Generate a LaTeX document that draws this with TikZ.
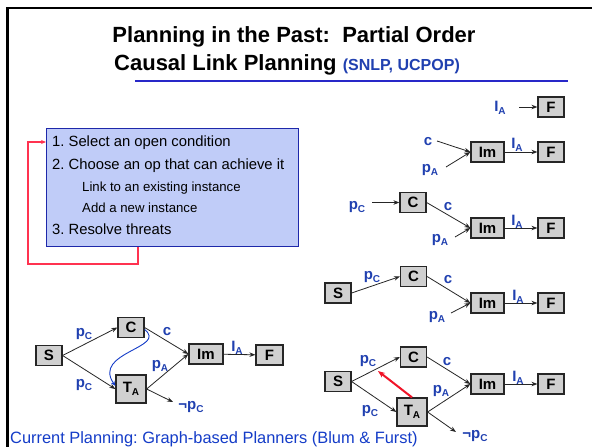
\documentclass[tikz,border=0pt]{standalone}
\usepackage{fontspec}
\setmainfont{Liberation Sans}
\usetikzlibrary{arrows.meta}
\definecolor{lblue}{RGB}{32,64,176}
\definecolor{boxfill}{RGB}{208,208,208}
\definecolor{stepfill}{RGB}{192,204,248}
\definecolor{stepdraw}{RGB}{30,40,170}
\definecolor{loopred}{RGB}{255,50,80}
\definecolor{threat}{RGB}{240,20,40}
\definecolor{curblue}{RGB}{20,60,200}
\definecolor{ulblue}{RGB}{40,40,200}
\newcommand\sbs[1]{\raisebox{-0.45ex}{\fontsize{10}{10}\selectfont #1}}
\frenchspacing
\begin{document}
\begin{tikzpicture}[x=1pt,y=-1pt,
  op/.style={draw=black!85, fill=boxfill, line width=1.2pt, inner sep=0pt, minimum width=26pt, minimum height=20pt, font=\fontsize{15}{15}\selectfont\bfseries},
  wideop/.style={op, minimum width=33pt},
  tallop/.style={op, minimum width=30pt, minimum height=28pt},
  lbl/.style={text=lblue, font=\fontsize{15}{15}\selectfont\bfseries, inner sep=0pt},
  link/.style={draw=black!85, line width=0.8pt, -{Stealth[length=6pt,width=4.5pt]}},
  steptext/.style={anchor=base west, inner sep=0pt, font=\fontsize{14.8}{14.8}\selectfont},
  subtext/.style={anchor=base west, inner sep=0pt, font=\fontsize{13.2}{13.2}\selectfont}]
\useasboundingbox (0,0) rectangle (592,447);
\fill[white] (0,0) rectangle (592,447);
% frame
\draw[line width=2.5pt] (7.5,447) -- (7.5,8) -- (592,8);
% title
\node[anchor=base, inner sep=0pt, font=\fontsize{22}{22}\selectfont\bfseries] (t1) at (294,42) {Planning in the Past:\ \ Partial Order};
\node[anchor=base west, inner sep=0pt, font=\fontsize{22}{22}\selectfont\bfseries] (t2) at (114,70) {Causal Link Planning \textcolor{lblue}{\fontsize{16}{16}\selectfont (SNLP, UCPOP)}};
\draw[ulblue, line width=2pt] (135,81) -- (568,81);
% steps box
\node[draw=stepdraw, fill=stepfill, line width=1pt, minimum width=252pt, minimum height=118pt, anchor=north west, inner sep=0pt] (steps) at (46,128) {};
\node[steptext] (s1) at (52,146) {1. Select an open condition};
\node[steptext] (s2) at (52,169) {2. Choose an op that can achieve it};
\node[subtext] (s3) at (82,191) {Link to an existing instance};
\node[subtext] (s4) at (82,212) {Add a new instance};
\node[steptext] (s5) at (52,234) {3. Resolve threats};
\coordinate (lp) at (28,264);
\draw[loopred, line width=1.2pt, -{Stealth[length=5pt,width=4pt]}] ([xshift=92pt]steps.south west) |- (lp) |- ([yshift=-14pt]steps.north west);
% row 1
\node[op] (F1) at (551,107) {F};
\node[lbl] (l1) at (500,108) {I\sbs{A}};
\coordinate (a1) at (519,107);
\draw[link] (a1) -- (F1.west);
% row 2
\node[wideop] (Im2) at (487.5,152) {Im};
\node[op] (F2) at (551,152) {F};
\node[lbl] (c2l) at (428,142) {c};
\node[lbl] (pa2l) at (430,170) {p\sbs{A}};
\node[lbl] (ia2l) at (517,145) {I\sbs{A}};
\coordinate (c2) at (437,141);
\coordinate (pa2) at (446,167);
\draw[link] (c2) -- (Im2.west);
\draw[link] (pa2) -- (Im2.west);
\draw[link] (Im2) -- (F2);
% row 3
\node[op] (C3) at (413,202.5) {C};
\node[wideop] (Im3) at (487.5,228) {Im};
\node[op] (F3) at (551,228) {F};
\node[lbl] (pc3l) at (357,207) {p\sbs{C}};
\node[lbl] (c3l) at (448,207) {c};
\node[lbl] (pa3l) at (440,240) {p\sbs{A}};
\node[lbl] (ia3l) at (517,222) {I\sbs{A}};
\coordinate (pc3) at (372,202.5);
\coordinate (pa3) at (455,237);
\draw[link] (pc3) -- (C3.west);
\draw[link] (C3.east) -- (Im3.west);
\draw[link] (pa3) -- (Im3.west);
\draw[link] (Im3) -- (F3);
% row 4
\node[op] (S4) at (338,293) {S};
\node[op] (C4) at (413.5,276.5) {C};
\node[wideop] (Im4) at (487.5,303) {Im};
\node[op] (F4) at (551,303) {F};
\node[lbl] (pc4l) at (372,277) {p\sbs{C}};
\node[lbl] (c4l) at (448,280) {c};
\node[lbl] (pa4l) at (437,317) {p\sbs{A}};
\node[lbl] (ia4l) at (518,297) {I\sbs{A}};
\coordinate (pa4) at (451,313);
\draw[link] (S4.east) -- (C4.west);
\draw[link] (C4.east) -- (Im4.west);
\draw[link] (pa4) -- (Im4.west);
\draw[link] (Im4) -- (F4);
% row 5
\node[op] (S5) at (338,381.5) {S};
\node[op] (C5) at (413.5,357) {C};
\node[tallop] (T5) at (412,412) {T\sbs{A}};
\node[wideop] (Im5) at (487.5,384) {Im};
\node[op] (F5) at (551,384) {F};
\node[lbl] (pc5l) at (368,361) {p\sbs{C}};
\node[lbl] (pc5m) at (370,411) {p\sbs{C}};
\node[lbl] (c5l) at (447,362) {c};
\node[lbl] (pa5l) at (441,391) {p\sbs{A}};
\node[lbl] (ia5l) at (518,378) {I\sbs{A}};
\node[lbl] (np5l) at (475,436) {¬p\sbs{C}};
\coordinate (np5) at (456,432);
\coordinate (thr) at (378,371);
\draw[link] (S5.east) -- (C5.west);
\draw[link] (S5.east) -- (T5.west);
\draw[link] (C5.east) -- (Im5.west);
\draw[link] (T5.east) -- (Im5.west);
\draw[link] (T5.east) -- (np5);
\draw[link] (Im5) -- (F5);
\draw[threat, line width=2pt, -{Stealth[length=7pt,width=5.5pt]}] (T5.north) -- (thr);
% left bottom
\node[op] (S6) at (49,355.5) {S};
\node[op] (C6) at (131,327.5) {C};
\node[tallop] (T6) at (131,389) {T\sbs{A}};
\node[wideop, minimum width=34pt] (Im6) at (206,354) {Im};
\node[op, minimum width=27pt] (F6) at (269.5,355) {F};
\node[lbl] (pc6l) at (84,334) {p\sbs{C}};
\node[lbl] (pc6m) at (84,385) {p\sbs{C}};
\node[lbl] (c6l) at (167,332) {c};
\node[lbl] (pa6l) at (160,366) {p\sbs{A}};
\node[lbl] (ia6l) at (237,348) {I\sbs{A}};
\node[lbl] (np6l) at (191,407) {¬p\sbs{C}};
\coordinate (np6) at (173,402);
\draw[link] (S6.east) -- (C6.west);
\draw[link] (S6.east) -- (T6.west);
\draw[link] (C6.east) -- (Im6.west);
\draw[link] (T6.east) -- (Im6.west);
\draw[link] (T6.east) -- (np6);
\draw[link] (Im6) -- (F6);
\draw[curblue, line width=0.9pt, -{Stealth[length=5pt,width=4pt]}] ([yshift=-2pt]C6.east) .. controls (168,348) and (92,352) .. ([yshift=3pt]T6.west);
% footer
\node[anchor=base west, inner sep=0pt, text=curblue, font=\fontsize{16.4}{16.4}\selectfont] (cur) at (10,443) {Current Planning: Graph-based Planners (Blum \& Furst)};
\end{tikzpicture}
\end{document}
